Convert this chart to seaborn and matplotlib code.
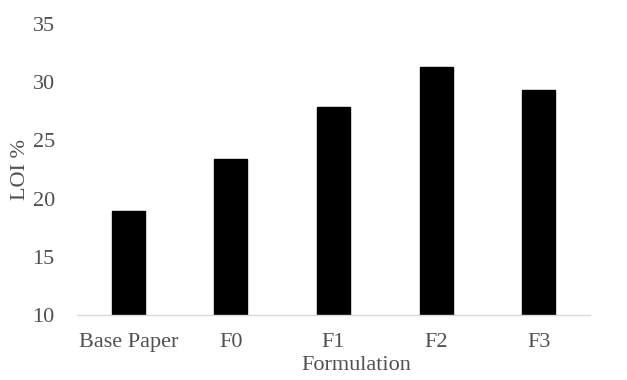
import matplotlib
matplotlib.use("Agg")
import matplotlib.pyplot as plt
import seaborn as sns
import pandas as pd

categories = ["Base Paper", "F0", "F1", "F2", "F3"]
loi_values = [18.9, 23.4, 27.9, 31.3, 29.3]
y_ticks = [10, 15, 20, 25, 30, 35]

sns.set_theme(style="white")
plt.rcParams["font.family"] = ["Liberation Serif", "DejaVu Serif"]

df = pd.DataFrame({"Formulation": categories, "LOI": loi_values})

fig = plt.figure(figsize=(6.27, 3.80), dpi=100)
ax = fig.add_axes([77/627, 1 - 315/380, (590 - 77)/627, (315 - 24)/380])

sns.barplot(data=df, x="Formulation", y="LOI", color="black", width=0.32,
            saturation=1, ax=ax, edgecolor="black")

ax.set_ylim(10, 35)
ax.set_xlim(-0.5, 4.5)
ax.set_yticks(y_ticks)
ax.set_yticklabels([str(t) for t in y_ticks])
text_color = "#505050"
ax.tick_params(axis="both", length=0, labelsize=16, colors=text_color)
ax.tick_params(axis="y", pad=16)
ax.tick_params(axis="x", pad=13)
for s in ["top", "right", "left"]:
    ax.spines[s].set_visible(False)
ax.spines["bottom"].set_color("#d9d9d9")
ax.spines["bottom"].set_linewidth(1.0)
ax.set_xlabel("Formulation", fontsize=16, color=text_color, labelpad=3)
ax.xaxis.label.set_x((356 - 77) / 513)
ax.set_ylabel("LOI %", fontsize=16, color=text_color, labelpad=2)

fig.savefig("out.png", dpi=100, facecolor="white")
